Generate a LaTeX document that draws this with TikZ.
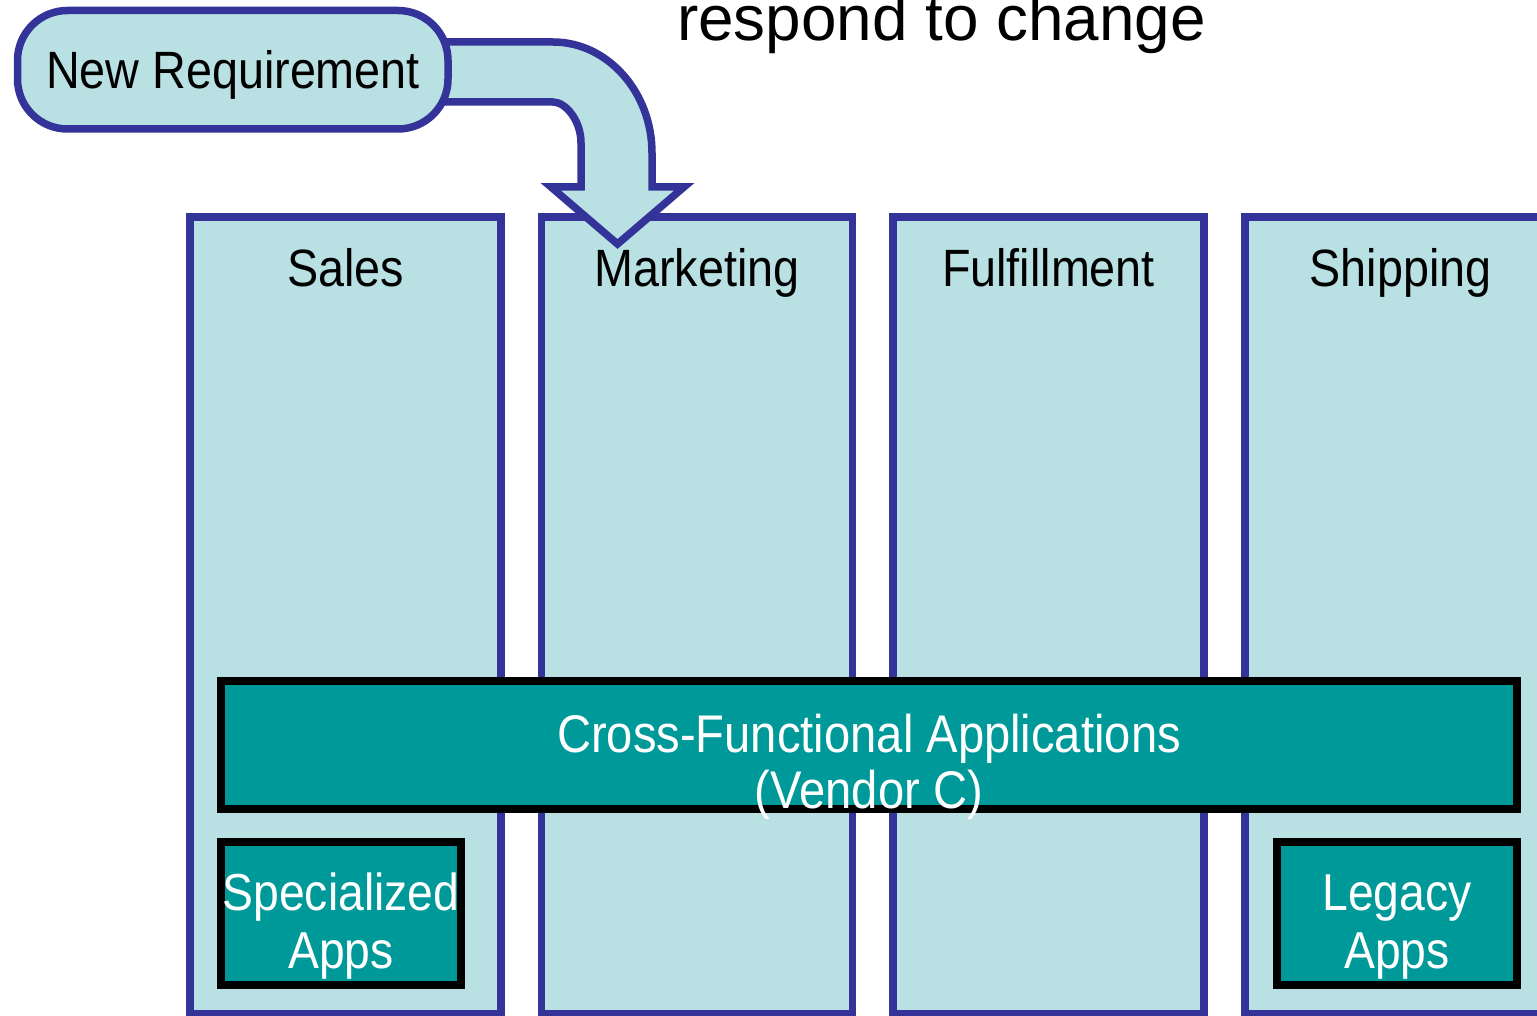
\documentclass[tikz,border=0pt]{standalone}
\usepackage{fontspec}
\setmainfont{Liberation Sans}
\newfontfamily\narrowfont{Liberation Sans}[FakeStretch=0.89]

\definecolor{paleaqua}{RGB}{185,224,227}
\definecolor{laneblue}{RGB}{51,51,153}
\definecolor{appteal}{RGB}{0,153,153}

\tikzset{
  lane/.style={draw=laneblue, fill=paleaqua, line width=7.5pt, line join=miter},
  appbox/.style={draw=black, fill=appteal, line width=8pt},
  lanelabel/.style={font=\narrowfont\fontsize{52.5}{56}\selectfont, text=black, inner sep=0pt, anchor=base},
  applabel/.style={font=\narrowfont\fontsize{53}{56}\selectfont, text=white, inner sep=0pt, anchor=base, align=center},
}

\begin{document}
\begin{tikzpicture}[x=1pt,y=-1pt]
\useasboundingbox (0,0) rectangle (1537,1016);
\clip (0,0) rectangle (1537,1016);

% heading line, partly above the top edge
\node[font=\fontsize{63.8}{70}\selectfont, inner sep=0pt, anchor=base west] (head) at (677,41) {respond to change};

% business lanes
\draw[lane] (190,217) rectangle (501,1014);
\draw[lane] (541.5,217) rectangle (852.5,1014);
\draw[lane] (893,217) rectangle (1204,1014);
\draw[lane] (1245,217) rectangle (1600,1014);

% bent block arrow from the requirement into Marketing
\draw[lane] (400,42) -- (553,42)
  .. controls (607.5,42) and (652,92) .. (652,153)
  -- (652,187) -- (684,187) -- (617.5,244) -- (551,187) -- (581,187)
  -- (581,143)
  .. controls (581,120.5) and (565.6,102) .. (553,102)
  -- (400,102);

% requirement box
\draw[lane, rounded corners=50pt] (17.5,10.5) rectangle (448,129);
\node[lanelabel] (req) at (233,89) {New Requirement};

% lane titles
\node[lanelabel] (sales) at (345.5,287) {Sales};
\node[lanelabel] (mkt) at (697,287) {Marketing};
\node[lanelabel] (ful) at (1048.5,287) {Fulfillment};
\node[lanelabel] (ship) at (1400.5,287) {Shipping};

% application layers (base anchor sits on the last line)
\draw[appbox] (221,681) rectangle (1517,809);
\node[applabel] (cross) at (869,808) {Cross-Functional Applications\\(Vendor C)};

\draw[appbox] (221,842) rectangle (461,985);
\node[applabel, font=\narrowfont\fontsize{52}{58}\selectfont] (spec) at (341,968) {Specialized\\Apps};

\draw[appbox] (1277,842) rectangle (1517,985);
\node[applabel, font=\narrowfont\fontsize{52}{58}\selectfont] (legacy) at (1397,968) {Legacy\\Apps};
\end{tikzpicture}
\end{document}
